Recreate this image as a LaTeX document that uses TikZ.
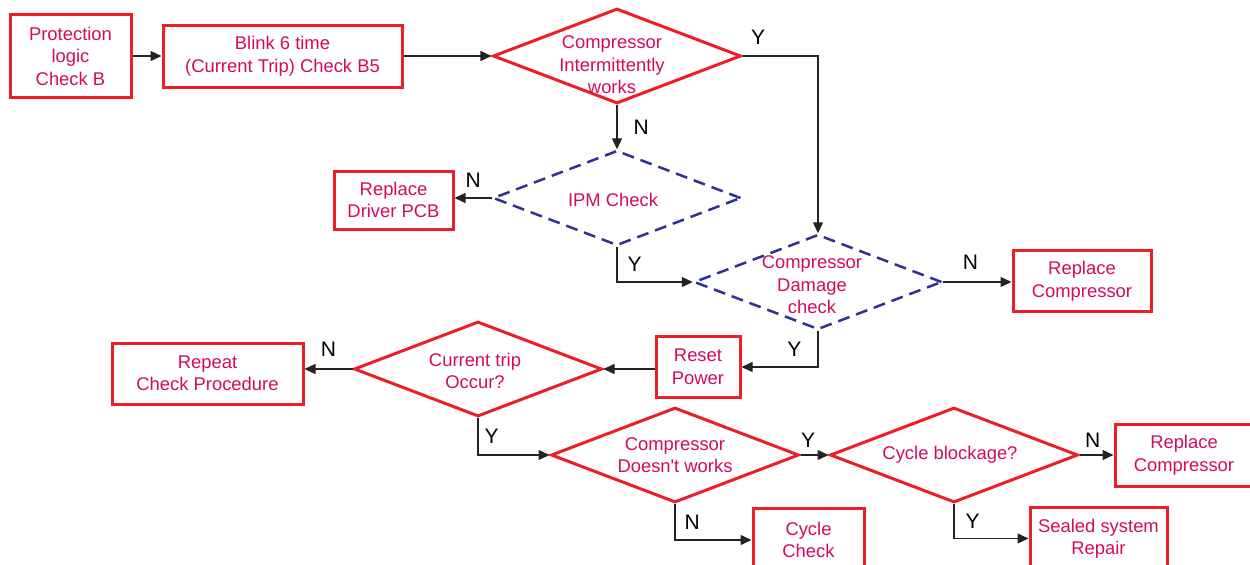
\documentclass[tikz,border=0pt]{standalone}
\usepackage{fontspec}
\setmainfont{Liberation Sans}
\usetikzlibrary{shapes.geometric,arrows.meta}
\definecolor{rouge}{RGB}{236,30,40}
\definecolor{texte}{RGB}{212,10,90}
\definecolor{marine}{RGB}{46,50,146}
\definecolor{trait}{RGB}{35,35,35}

\begin{document}
\begin{tikzpicture}[x=0.5pt, y=-0.5pt,
  rbox/.style 2 args={rectangle, draw=rouge, line width=1.5pt, minimum width=#1, minimum height=#2,
                      inner sep=0pt, align=center, text=texte, font=\fontsize{9.2}{11.25}\selectfont},
  dia/.style={diamond, minimum width=124pt, minimum height=47.5pt, inner sep=0pt},
  rdia/.style={dia, draw=rouge, line width=1.5pt},
  bdia/.style={dia, draw=marine, line width=1.25pt, dash pattern=on 6pt off 3.5pt},
  txt/.style={text=texte, align=center, inner sep=0pt, font=\fontsize{9.2}{11.25}\selectfont},
  conn/.style={draw=trait, line width=0.65pt, -{Triangle[length=5.5pt,width=5pt]}},
  yn/.style={font=\fontsize{10.5}{12}\selectfont, text=black, inner sep=0pt}]
\clip (0,0) rectangle (1250,564);
\node[rbox={60.5pt}{41.5pt}] (prot) at (70.5,56) {Protection\\logic\\Check B};
\node[rbox={119.5pt}{31pt}] (blink) at (282.5,56) {Blink 6 time\\(Current Trip) Check B5};
\node[rdia, label={[txt, xshift=-2.5pt, yshift=-4.5pt]center:{Compressor\\Intermittently\\works}}] (d1) at (617,56) {};
\node[bdia, label={[txt, xshift=-2pt, yshift=-1pt]center:{IPM Check}}] (ipm) at (617,198) {};
\node[rbox={59.5pt}{29pt}] (drv) at (393.5,200) {Replace\\Driver PCB};
\node[bdia, label={[txt, xshift=-3pt, yshift=-1.5pt]center:{Compressor\\Damage\\check}}] (cd) at (818,282) {};
\node[rbox={69pt}{30.5pt}] (rep1) at (1082,281) {Replace\\Compressor};
\node[rbox={42pt}{30.5pt}] (reset) at (698,367) {Reset\\Power};
\node[rdia, label={[txt, xshift=-1.5pt, yshift=-1pt]center:{Current trip\\Occur?}}] (ct) at (478,369) {};
\node[rbox={95.5pt}{30.5pt}] (rpt) at (207.5,373.5) {Repeat\\Check Procedure};
\node[rdia, label={[txt]center:{Compressor\\Doesn\textquotesingle t works}}] (cdw) at (675,455) {};
\node[rdia, label={[txt, xshift=-2pt]center:{Cycle blockage?}}] (cb) at (954,455) {};
\node[rbox={69pt}{31pt}] (rep2) at (1184,455) {Replace\\Compressor};
\node[rbox={55.5pt}{32pt}] (cyc) at (808.5,540) {Cycle\\Check};
\node[rbox={68.5pt}{31.5pt}] (seal) at (1098.5,538.5) {Sealed system\\Repair};

\draw[conn] (prot) -- (blink);
\draw[conn] (blink) -- (d1);
\draw[conn] (d1.east) -| node[yn, pos=0, anchor=south west, xshift=4pt, yshift=5.5pt] {Y} (cd.north);
\draw[conn] (d1) -- node[yn, midway, anchor=west, xshift=8pt] {N} (ipm);
\draw[conn] (ipm.west) -- node[yn, midway, anchor=south, yshift=5pt] {N} (ipm.west -| drv.east);
\draw[conn] (ipm.south) |- node[yn, pos=0.25, anchor=west, xshift=5pt] {Y} (cd.west);
\draw[conn] (cd.east) -- node[yn, pos=0.4, anchor=south, yshift=6pt] {N} (cd.east -| rep1.west);
\draw[conn] (cd.south) |- node[yn, pos=0.25, anchor=east, xshift=-8pt] {Y} (reset.east);
\draw[conn] (reset.west |- ct.east) -- (ct.east);
\draw[conn] (ct.west) -- node[yn, midway, anchor=south, yshift=6pt] {N} (ct.west -| rpt.east);
\draw[conn] (ct.south) |- node[yn, pos=0.25, anchor=west, xshift=3pt] {Y} (cdw.west);
\draw[conn] (cdw.east) -- node[yn, pos=0, anchor=south west, yshift=3.5pt] {Y} (cb.west);
\draw[conn] (cb.east) -- node[yn, pos=0, anchor=south west, xshift=2.5pt, yshift=3.5pt] {N} (rep2.west);
\draw[conn] (cdw.south) |- node[yn, pos=0.25, anchor=west, xshift=4.5pt] {N} (cyc.west);
\draw[conn] (cb.south) |- node[yn, pos=0.25, anchor=west, xshift=5.5pt] {Y} (seal.west);
\end{tikzpicture}
\end{document}
